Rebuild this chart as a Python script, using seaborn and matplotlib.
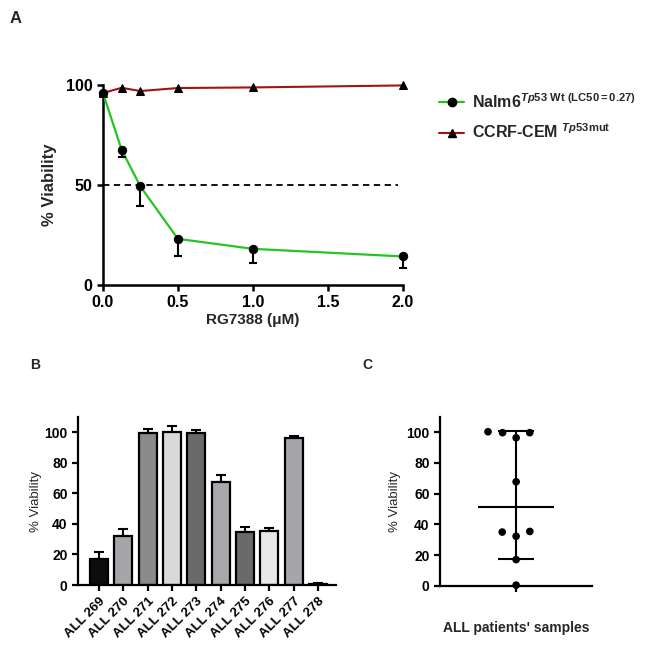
import numpy as np
import matplotlib
matplotlib.use("Agg")
import matplotlib.pyplot as plt
import seaborn as sns
from matplotlib.lines import Line2D

# ---------------------------
# Data
# ---------------------------
# A: dose response to RG7388
dose = [0.0, 0.125, 0.25, 0.5, 1.0, 2.0]
nalm6_viab = [96.0, 67.5, 49.2, 23.0, 18.0, 14.2]
nalm6_err = [1.5, 3.8, 9.7, 8.5, 7.2, 5.9]
ccrf_viab = [95.8, 98.4, 96.8, 98.3, 98.6, 99.6]

# B / C: primary ALL samples
patients = ["ALL 269", "ALL 270", "ALL 271", "ALL 272", "ALL 273",
            "ALL 274", "ALL 275", "ALL 276", "ALL 277", "ALL 278"]
patient_viab = [17.1, 32.3, 99.6, 100.2, 99.6, 67.7, 35.0, 35.4, 96.3, 0.5]
patient_err = [4.4, 4.7, 2.8, 4.2, 1.9, 4.3, 3.0, 2.2, 1.5, 0.6]
bar_colors = ["#0d0d0d", "#a4a4ab", "#8a8a8a", "#d9d9d9", "#6a6a6a",
              "#a6a6ad", "#6a6a6a", "#e8e8e8", "#a4a4ab", "#a4a4ab"]
c_range = [17.5, 100.4]   # whisker ends in panel C

GREEN = "#25c425"
RED = "#a01414"

sns.set_style("ticks")
plt.rcParams["font.family"] = ["Liberation Sans", "DejaVu Sans"]
plt.rcParams["mathtext.fontset"] = "custom"
plt.rcParams["mathtext.rm"] = "Liberation Sans:bold"
plt.rcParams["mathtext.it"] = "Liberation Sans:italic:bold"
plt.rcParams["mathtext.bf"] = "Liberation Sans:bold"


def style_axis(ax, lw=1.6):
    for side in ["top", "right"]:
        ax.spines[side].set_visible(False)
    for side in ["left", "bottom"]:
        ax.spines[side].set_linewidth(lw)
        ax.spines[side].set_color("black")
    ax.tick_params(direction="out", length=4, width=lw, colors="black")


fig = plt.figure(figsize=(6.55, 6.46), dpi=100)

# ---------------------------
# Panel A
# ---------------------------
axA = fig.add_axes([0.157, 0.559, 0.458, 0.310])
axA.axhline(50, xmin=0, xmax=0.985, ls=(0, (3.5, 2.5)), color="black", lw=1.3, zorder=1)
sns.lineplot(x=dose, y=ccrf_viab, color=RED, lw=1.5, marker="^", markersize=6,
             markerfacecolor="black", markeredgecolor="black", ax=axA,
             clip_on=False, zorder=3)
sns.lineplot(x=dose, y=nalm6_viab, color=GREEN, lw=1.6, marker="o", markersize=6,
             markerfacecolor="black", markeredgecolor="black", ax=axA,
             clip_on=False, zorder=4)
axA.errorbar(dose, nalm6_viab, yerr=[nalm6_err, np.zeros(len(dose))], fmt="none",
             ecolor="black", elinewidth=1.5, capsize=3, capthick=1.5,
             clip_on=False, zorder=5)
axA.set_xlim(0, 2.0)
axA.set_ylim(0, 100)
axA.set_xticks([0, 0.5, 1.0, 1.5, 2.0])
axA.set_xticklabels(["0.0", "0.5", "1.0", "1.5", "2.0"])
axA.set_yticks([0, 50, 100])
style_axis(axA, lw=1.8)
axA.tick_params(labelsize=11.5)
for t in axA.get_xticklabels() + axA.get_yticklabels():
    t.set_fontweight("bold")
axA.set_xlabel("RG7388 (\u03bcM)", fontsize=11, fontweight="bold", labelpad=2)
axA.set_ylabel("% Viability", fontsize=12, fontweight="bold", labelpad=6)

handles = [
    Line2D([], [], color=GREEN, lw=1.6, marker="o", markersize=6,
           markerfacecolor="black", markeredgecolor="black"),
    Line2D([], [], color=RED, lw=1.5, marker="^", markersize=6,
           markerfacecolor="black", markeredgecolor="black"),
]
labels = [
    r"Nalm6$^{\mathit{Tp53}\ \mathrm{Wt}\ \mathrm{(LC50{=}0.27)}}$",
    r"CCRF-CEM $^{\mathit{Tp53}\mathrm{mut}}$",
]
fig.legend(handles, labels, loc="upper left", bbox_to_anchor=(0.648, 0.88),
           frameon=False, handlelength=1.6, handletextpad=0.5, labelspacing=0.75,
           prop={"size": 11.5, "weight": "bold"})

# ---------------------------
# Panel B
# ---------------------------
axB = fig.add_axes([0.119, 0.0944, 0.394, 0.260])
sns.barplot(x=patients, y=patient_viab, hue=patients, palette=bar_colors,
            legend=False, width=0.74, edgecolor="black", linewidth=1.6,
            ax=axB, zorder=2)
axB.errorbar(range(len(patients)), patient_viab,
             yerr=[np.zeros(len(patients)), patient_err], fmt="none",
             ecolor="black", elinewidth=1.5, capsize=3.5, capthick=1.5, zorder=1)
axB.set_xlim(-0.86, 9.74)
axB.set_ylim(0, 110)
axB.set_yticks(range(0, 101, 20))
style_axis(axB)
axB.tick_params(axis="y", labelsize=10)
axB.tick_params(axis="x", labelsize=9.5)
for t in axB.get_yticklabels():
    t.set_fontweight("bold")
for t in axB.get_xticklabels():
    t.set_fontweight("bold")
    t.set_rotation(45)
    t.set_ha("right")
    t.set_rotation_mode("anchor")
axB.set_xlabel("")
axB.set_ylabel("% Viability", fontsize=9.5, labelpad=2)

# ---------------------------
# Panel C
# ---------------------------
axC = fig.add_axes([0.672, 0.093, 0.232, 0.262])
sns.swarmplot(y=patient_viab, color="black", size=5.5, linewidth=4.5,
              edgecolor="none", ax=axC, zorder=3, clip_on=False)
med = np.median(patient_viab)
axC.hlines(med, -0.5, 0.5, color="black", lw=1.5, zorder=2)
axC.vlines(0, c_range[0], c_range[1], color="black", lw=1.5, zorder=2)
axC.hlines(c_range, -0.24, 0.24, color="black", lw=1.5, zorder=2)
axC.set_xlim(-1, 1)
axC.set_ylim(0, 110)
axC.set_yticks(range(0, 101, 20))
axC.set_xticks([0])
axC.set_xticklabels([""])
style_axis(axC)
axC.tick_params(axis="y", labelsize=10)
for t in axC.get_yticklabels():
    t.set_fontweight("bold")
axC.set_xlabel("ALL patients' samples", fontsize=10, fontweight="bold", labelpad=18)
axC.set_ylabel("% Viability", fontsize=9.5, labelpad=4)

# panel letters
fig.text(0.015, 0.972, "A", fontsize=12, fontweight="bold", va="center")
fig.text(0.046, 0.435, "B", fontsize=10, fontweight="bold", va="center")
fig.text(0.553, 0.435, "C", fontsize=10, fontweight="bold", va="center")

fig.savefig("out.png", dpi=100)
